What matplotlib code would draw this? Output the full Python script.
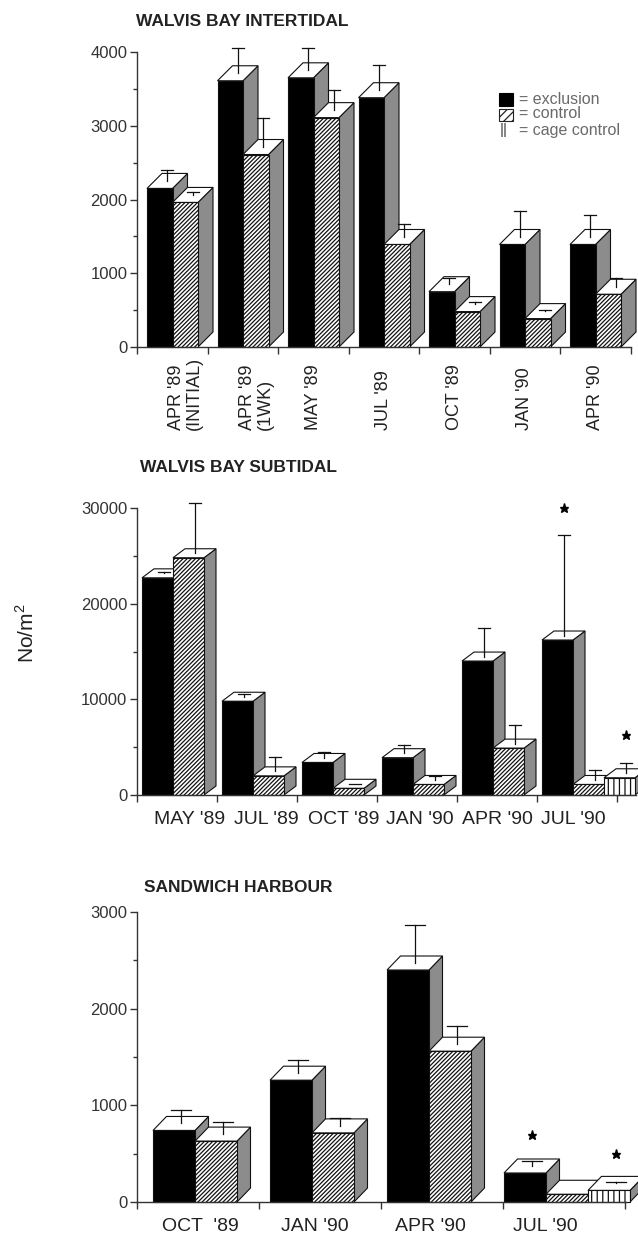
import numpy as np
import matplotlib.pyplot as plt
from matplotlib.patches import Polygon, Rectangle
from matplotlib.transforms import blended_transform_factory

plt.rcParams['font.family'] = ['Liberation Sans', 'DejaVu Sans']
plt.rcParams['mathtext.fontset'] = 'custom'
plt.rcParams['mathtext.rm'] = 'Liberation Sans'
plt.rcParams['hatch.linewidth'] = 0.9

# Walvis Bay intertidal
int_labels = ["APR '89\n(INITIAL)", "APR '89\n(1WK)", "MAY '89", "JUL '89",
              "OCT '89", "JAN '90", "APR '90"]
int_excl = [2150, 3610, 3650, 3380, 750, 1390, 1390]
int_excl_hi = [2400, 4050, 4050, 3830, 940, 1840, 1790]
int_ctrl = [1960, 2610, 3110, 1390, 480, 385, 715]
int_ctrl_hi = [2100, 3110, 3480, 1670, 610, 500, 930]

# Walvis Bay subtidal
sub_labels = ["MAY '89", "JUL '89", "OCT '89", "JAN '90", "APR '90", "JUL '90"]
sub_excl = [22700, 9800, 3400, 3900, 14000, 16200]
sub_excl_hi = [23300, 10600, 4500, 5200, 17500, 27200]
sub_ctrl = [24800, 2000, 700, 1100, 4900, 1100]
sub_ctrl_hi = [30500, 4000, 1200, 2000, 7300, 2600]
sub_cage = [None, None, None, None, None, 1800]
sub_cage_hi = [None, None, None, None, None, 3300]
sub_star_excl = [None, None, None, None, None, 30000]
sub_star_cage = [None, None, None, None, None, 6300]

# Sandwich Harbour
sh_labels = ["OCT  '89", "JAN '90", "APR '90", "JUL '90"]
sh_excl = [740, 1260, 2400, 300]
sh_excl_hi = [950, 1470, 2870, 420]
sh_ctrl = [630, 715, 1560, 80]
sh_ctrl_hi = [830, 870, 1820, 150]
sh_cage = [None, None, None, 120]
sh_cage_hi = [None, None, None, 210]
sh_star_excl = [None, None, None, 690]
sh_star_cage = [None, None, None, 500]

W, H = 638, 1237
fig = plt.figure(figsize=(W / 100, H / 100), dpi=100)

INK = '#111111'
SIDE = '#8c8c8c'
AXC = '#333333'


def make_axes(left, top, right, bottom, pitch, ymax, ystep):
    ax = fig.add_axes([left / W, 1 - bottom / H, (right - left) / W, (bottom - top) / H])
    ax.set_xlim(0, (right - left) / pitch)
    ax.set_ylim(0, ymax)
    for s in ('top', 'right'):
        ax.spines[s].set_visible(False)
    for s in ('left', 'bottom'):
        ax.spines[s].set_color(AXC)
        ax.spines[s].set_linewidth(1.0)
    ax.set_yticks(np.arange(0, ymax + 1, ystep))
    ax.set_yticks(np.arange(0, ymax + 1, ystep / 2), minor=True)
    ax.set_xticks(np.arange(0, int((right - left) / pitch + 1e-6) + 1))
    ax.set_xticklabels([])
    ax.tick_params(axis='y', which='major', length=5, width=1, color=AXC,
                   labelsize=12, labelcolor='#333333', pad=2)
    ax.tick_params(axis='y', which='minor', length=3, width=1, color=AXC)
    ax.tick_params(axis='x', which='major', length=5, width=1, color=AXC)
    ax.patch.set_alpha(0)
    return ax


def bar3d(ax, x0, h, w, dx, dy, kind):
    side = Polygon([(x0 + w, 0), (x0 + w + dx, dy), (x0 + w + dx, h + dy), (x0 + w, h)],
                   closed=True, fc=SIDE, ec=INK, lw=0.8, clip_on=False)
    top = Polygon([(x0, h), (x0 + dx, h + dy), (x0 + w + dx, h + dy), (x0 + w, h)],
                  closed=True, fc='white', ec=INK, lw=0.8, clip_on=False)
    if kind == 'excl':
        front = Rectangle((x0, 0), w, h, fc='black', ec=INK, lw=0.8, clip_on=False)
    elif kind == 'ctrl':
        front = Rectangle((x0, 0), w, h, fc='white', ec=INK, lw=0.8, hatch='////////',
                          clip_on=False)
    else:
        front = Rectangle((x0, 0), w, h, fc='white', ec=INK, lw=0.8, hatch='|||', clip_on=False)
    for p in (side, top, front):
        ax.add_patch(p)


def draw_panel(ax, series, off, bpitch, w, dx, dy, cap):
    for k in range(len(series[0][0])):
        left = off + k * bpitch
        for j, (vals, hi, stars, kind) in enumerate(series):
            h = vals[k]
            if h is None:
                continue
            x0 = left + j * w
            bar3d(ax, x0, h, w, dx, dy, kind)
            xc = x0 + w / 2 + dx / 2
            yc = h + dy / 2
            if hi[k] is not None and hi[k] > yc:
                ax.plot([xc, xc], [yc, hi[k]], color=INK, lw=0.9, zorder=3, clip_on=False)
                ax.plot([xc - cap, xc + cap], [hi[k], hi[k]], color=INK, lw=0.9,
                        zorder=3, clip_on=False)
            if stars is not None and stars[k] is not None:
                ax.plot(xc, stars[k], marker='*', ms=6.5, color='black', zorder=3, clip_on=False)


# --- intertidal panel ---
ax1 = make_axes(137, 52, 631, 347, 70.5, 4000, 1000)
draw_panel(ax1, [(int_excl, int_excl_hi, None, 'excl'), (int_ctrl, int_ctrl_hi, None, 'ctrl')],
           off=10 / 70.5, bpitch=1.0, w=25.5 / 70.5, dx=15 / 70.5, dy=15 / 295 * 4000,
           cap=6 / 70.5)
tr1 = blended_transform_factory(ax1.transData, ax1.transAxes)
for k, lab in enumerate(int_labels):
    xl = k + (0.69 if '\n' in lab else 0.5)
    ax1.text(xl, -0.281, lab, rotation=90, ha='center', va='bottom', multialignment='left',
             fontsize=13, color='#222222', transform=tr1, linespacing=1.05)

# --- subtidal panel ---
ax2 = make_axes(137, 508, 636, 795, 80, 30000, 10000)
draw_panel(ax2, [(sub_excl, sub_excl_hi, sub_star_excl, 'excl'),
                 (sub_ctrl, sub_ctrl_hi, None, 'ctrl'),
                 (sub_cage, sub_cage_hi, sub_star_cage, 'cage')],
           off=5 / 80, bpitch=1.0, w=31 / 80, dx=12 / 80, dy=9 / 287 * 30000, cap=6 / 80)
tr2 = blended_transform_factory(ax2.transData, ax2.transAxes)
for k, lab in enumerate(sub_labels):
    ax2.text(0.66 + k * 0.96, -0.087, lab, ha='center', va='center', fontsize=14,
             color='#222222', transform=tr2)

# --- Sandwich Harbour panel ---
ax3 = make_axes(137, 912, 626, 1202, 122, 3000, 1000)
draw_panel(ax3, [(sh_excl, sh_excl_hi, sh_star_excl, 'excl'),
                 (sh_ctrl, sh_ctrl_hi, None, 'ctrl'),
                 (sh_cage, sh_cage_hi, sh_star_cage, 'cage')],
           off=16 / 122, bpitch=117 / 122, w=42 / 122, dx=13.5 / 122, dy=14 / 290 * 3000,
           cap=10 / 122)
tr3 = blended_transform_factory(ax3.transData, ax3.transAxes)
for k, lab in enumerate(sh_labels):
    ax3.text(0.516 + k * 0.943, -0.086, lab, ha='center', va='center', fontsize=14,
             color='#222222', transform=tr3)

# panel titles and shared y label
fig.text(136 / W, 1 - 21 / H, 'WALVIS BAY INTERTIDAL', fontsize=12.5, fontweight='bold',
         color='#222222', ha='left', va='center')
fig.text(140 / W, 1 - 468 / H, 'WALVIS BAY SUBTIDAL', fontsize=12.5, fontweight='bold',
         color='#222222', ha='left', va='center')
fig.text(144 / W, 1 - 888 / H, 'SANDWICH HARBOUR', fontsize=12.5, fontweight='bold',
         color='#222222', ha='left', va='center')
fig.text(26 / W, 1 - 633 / H, 'No/m$^2$', rotation=90, fontsize=15, color='#222222',
         ha='center', va='center')

# legend
fig.add_artist(Rectangle((499 / W, 1 - 106 / H), 14 / W, 13 / H, transform=fig.transFigure,
                         fc='black', ec='black', lw=0.8))
fig.add_artist(Rectangle((499 / W, 1 - 121 / H), 14 / W, 12 / H, transform=fig.transFigure,
                         fc='white', ec='#222222', lw=0.8, hatch='////'))
fig.text(500 / W, 1 - 130 / H, '||', fontsize=11, color='#444444', ha='left', va='center')
for yy, txt in [(99, '= exclusion'), (114, '= control'), (130, '= cage control')]:
    fig.text(519 / W, 1 - yy / H, txt, fontsize=11.5, color='#6a6a6a', ha='left', va='center')

fig.savefig('out.png', dpi=100)
